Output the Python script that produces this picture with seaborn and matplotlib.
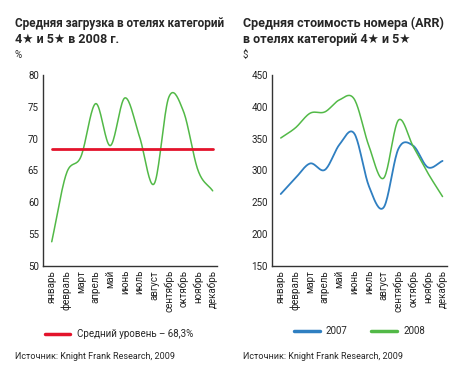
import numpy as np
import pandas as pd
import matplotlib
matplotlib.use("Agg")
import matplotlib.pyplot as plt
import seaborn as sns

months = ["январь", "февраль", "март", "апрель", "май", "июнь",
          "июль", "август", "сентябрь", "октябрь", "ноябрь", "декабрь"]
occupancy_2008 = [53.8, 64.5, 67.2, 75.5, 68.9, 76.4, 70.3, 62.9, 76.5, 74.3, 65.0, 61.8]
avg_level = 68.3
arr_2007 = [263, 288, 311, 301, 341, 358, 275, 242, 334, 339, 305, 315]
arr_2008 = [351, 367, 390, 392, 411, 412, 338, 288, 379, 338, 296, 259]

GREEN = "#52b947"
BLUE = "#2f7fc1"
RED = "#e3132b"

sns.set_style("white")
plt.rcParams["font.family"] = ["Roboto", "DejaVu Sans"]


def smooth(vals, n=20):
    # catmull-rom, only for drawing
    p = np.asarray(vals, float)
    p = np.concatenate([[2 * p[0] - p[1]], p, [2 * p[-1] - p[-2]]])
    xs, ys = [], []
    for i in range(1, len(p) - 2):
        t = np.linspace(0, 1, n, endpoint=False)
        p0, p1, p2, p3 = p[i - 1], p[i], p[i + 1], p[i + 2]
        y = 0.5 * (2 * p1 + (-p0 + p2) * t + (2 * p0 - 5 * p1 + 4 * p2 - p3) * t ** 2
                   + (-p0 + 3 * p1 - 3 * p2 + p3) * t ** 3)
        xs.append(i - 1 + t)
        ys.append(y)
    xs.append([len(vals) - 1])
    ys.append([vals[-1]])
    return np.concatenate(xs), np.concatenate(ys)


fig = plt.figure(figsize=(4.57, 3.73), dpi=100)
ax1 = fig.add_axes([0.094, 0.287, 0.381, 0.512])
ax2 = fig.add_axes([0.595, 0.287, 0.383, 0.512])

x, y = smooth(occupancy_2008)
sns.lineplot(x=x, y=y, ax=ax1, color=GREEN, lw=1.1)
sns.lineplot(x=[0, 11], y=[avg_level, avg_level], ax=ax1, color=RED, lw=2)
ax1.set_ylim(50, 80)
ax1.set_yticks(range(50, 81, 5))

x, y = smooth(arr_2007)
sns.lineplot(x=x, y=y, ax=ax2, color=BLUE, lw=1.3)
x, y = smooth(arr_2008)
sns.lineplot(x=x, y=y, ax=ax2, color=GREEN, lw=1.1)
ax2.set_ylim(150, 450)
ax2.set_yticks(range(150, 451, 50))

for ax in (ax1, ax2):
    ax.set_xlim(-0.6, 11.3)
    ax.set_xticks(range(12))
    ax.set_xticklabels(months, rotation=90, fontsize=7, va="top")
    ax.tick_params(axis="both", length=0, pad=3, labelsize=7, colors="#222222")
    for s in ("top", "right"):
        ax.spines[s].set_visible(False)
    for s in ("left", "bottom"):
        ax.spines[s].set_color("#333333")
        ax.spines[s].set_linewidth(1.0)

renderer = fig.canvas.get_renderer()


def fit_text(x, y, s, width_px, size, **kw):
    t = fig.text(x / 457, 1 - y / 373, s, fontsize=size, **kw)
    w = t.get_window_extent(renderer).width
    if w > width_px:
        t.set_fontsize(size * width_px / w)
    return t


fit_text(15, 27, "Средняя загрузка в отелях категорий", 210, 9, fontweight="bold")
fit_text(15, 43, "4★ и 5★ в 2008 г.", 110, 9, fontweight="bold")
fig.text(15 / 457, 1 - 58 / 373, "%", fontsize=7)
fit_text(243, 27, "Средняя стоимость номера (ARR)", 205, 9, fontweight="bold")
fit_text(243, 43, "в отелях категорий 4★ и 5★", 190, 9, fontweight="bold")
fig.text(243 / 457, 1 - 58 / 373, "$", fontsize=7)

leg_ax = fig.add_axes([0, 0, 1, 1], facecolor="none")
leg_ax.set_axis_off()
leg_ax.set_xlim(0, 457)
leg_ax.set_ylim(373, 0)
leg_ax.plot([45, 70], [334, 334], color=RED, lw=2.5)
leg_ax.text(77, 334, "Средний уровень – 68,3%", fontsize=7, va="center")
leg_ax.plot([294, 320], [331, 331], color=BLUE, lw=2.5)
leg_ax.text(326, 331, "2007", fontsize=7, va="center")
leg_ax.plot([371, 397], [331, 331], color=GREEN, lw=2.5)
leg_ax.text(403, 331, "2008", fontsize=7, va="center")
fit_text(15, 359, "Источник: Knight Frank Research, 2009", 160, 7)
fit_text(243, 359, "Источник: Knight Frank Research, 2009", 160, 7)

fig.savefig("out.png", dpi=100)
